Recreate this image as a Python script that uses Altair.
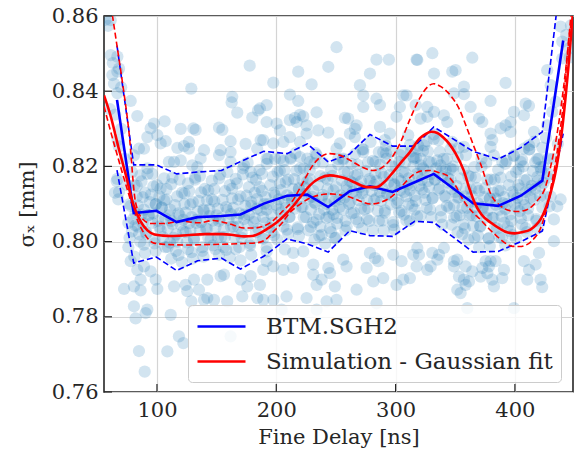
import altair as alt
import pandas as pd

# ---------------- data ----------------
# measured beam size, individual shots: dense core, first pass (~10 ns columns)
core_x = [
    79, 81, 83, 78, 82, 80, 84, 77, 76, 81,
    92, 87, 90, 94, 89, 93, 88, 91, 86, 90,
    96, 100, 102, 99, 104, 97, 101, 103, 98, 99,
    113, 108, 106, 111, 110, 112, 109, 114, 107, 112,
    119, 121, 123, 118, 122, 120, 124, 117, 116, 121,
    132, 127, 130, 134, 129, 133, 128, 131, 126, 130,
    136, 140, 142, 139, 144, 137, 141, 143, 138, 139,
    153, 148, 146, 151, 150, 152, 149, 154, 147, 152,
    159, 161, 163, 158, 162, 160, 164, 157, 156, 161,
    172, 167, 170, 174, 169, 173, 168, 171, 166, 170,
    176, 180, 182, 179, 184, 177, 181, 183, 178, 179,
    193, 188, 186, 191, 190, 192, 189, 194, 187, 192,
    199, 201, 203, 198, 202, 200, 204, 197, 196, 201,
    212, 207, 210, 214, 209, 213, 208, 211, 206, 210,
    216, 220, 222, 219, 224, 217, 221, 223, 218, 219,
    233, 228, 226, 231, 230, 232, 229, 234, 227, 232,
    239, 241, 243, 238, 242, 240, 244, 237, 236, 241,
    252, 247, 250, 254, 249, 253, 248, 251, 246, 250,
    256, 260, 262, 259, 264, 257, 261, 263, 258, 259,
    273, 268, 266, 271, 270, 272, 269, 274, 267, 272,
    279, 281, 283, 278, 282, 280, 284, 277, 276, 281,
    292, 287, 290, 294, 289, 293, 288, 291, 286, 290,
    296, 300, 302, 299, 304, 297, 301, 303, 298, 299,
    313, 308, 306, 311, 310, 312, 309, 314, 307, 312,
    319, 321, 323, 318, 322, 320, 324, 317, 316, 321,
    332, 327, 330, 334, 329, 333, 328, 331, 326, 330,
    336, 340, 342, 339, 344, 337, 341, 343, 338, 339,
    353, 348, 346, 351, 350, 352, 349, 354, 347, 352,
    359, 361, 363, 358, 362, 360, 364, 357, 356, 361,
    372, 367, 370, 374, 369, 373, 368, 371, 366, 370,
    376, 380, 382, 379, 384, 377, 381, 383, 378, 379,
    393, 388, 386, 391, 390, 392, 389, 394, 387, 392,
    399, 401, 403, 398, 402, 400, 404, 397, 396, 401,
    412, 407, 410, 414, 409, 413, 408, 411, 406, 410,
    416, 420, 422, 419, 424, 417, 421, 423, 418, 419,
]
core_y = [
    .8185, .8150, .8120, .8095, .8075, .8060, .8040, .8010, .7985, .7960,
    .8195, .8160, .8130, .8105, .8085, .8070, .8050, .8025, .8000, .7970,
    .8180, .8150, .8120, .8100, .8090, .8075, .8055, .8030, .8005, .7975,
    .8170, .8140, .8110, .8085, .8070, .8055, .8035, .8010, .7985, .7955,
    .8165, .8130, .8100, .8075, .8058, .8045, .8025, .8000, .7975, .7945,
    .8170, .8135, .8105, .8080, .8065, .8050, .8030, .8005, .7980, .7955,
    .8175, .8140, .8110, .8085, .8068, .8052, .8035, .8010, .7985, .7960,
    .8178, .8140, .8112, .8088, .8070, .8055, .8038, .8012, .7990, .7965,
    .8185, .8150, .8115, .8092, .8073, .8058, .8040, .8012, .7985, .7958,
    .8195, .8155, .8120, .8095, .8075, .8060, .8040, .8010, .7980, .7950,
    .8210, .8170, .8130, .8105, .8088, .8072, .8052, .8025, .7995, .7965,
    .8220, .8180, .8145, .8118, .8100, .8085, .8065, .8038, .8010, .7985,
    .8220, .8185, .8155, .8130, .8112, .8098, .8078, .8050, .8025, .8005,
    .8220, .8190, .8165, .8140, .8123, .8108, .8090, .8065, .8040, .8020,
    .8235, .8195, .8165, .8142, .8126, .8110, .8092, .8065, .8038, .8015,
    .8235, .8190, .8160, .8135, .8119, .8104, .8085, .8058, .8030, .8005,
    .8210, .8170, .8140, .8117, .8100, .8085, .8066, .8040, .8015, .7995,
    .8205, .8175, .8145, .8123, .8107, .8092, .8073, .8048, .8025, .8010,
    .8218, .8185, .8160, .8148, .8132, .8117, .8100, .8075, .8055, .8040,
    .8245, .8205, .8175, .8160, .8144, .8129, .8110, .8085, .8060, .8035,
    .8265, .8215, .8180, .8166, .8150, .8135, .8115, .8090, .8060, .8030,
    .8255, .8205, .8172, .8158, .8142, .8127, .8108, .8083, .8055, .8030,
    .8240, .8200, .8168, .8153, .8137, .8122, .8103, .8078, .8052, .8032,
    .8240, .8210, .8185, .8168, .8152, .8137, .8120, .8095, .8072, .8055,
    .8255, .8220, .8195, .8180, .8164, .8149, .8130, .8108, .8085, .8068,
    .8285, .8240, .8210, .8195, .8179, .8164, .8145, .8115, .8090, .8065,
    .8270, .8220, .8190, .8173, .8157, .8142, .8122, .8095, .8065, .8045,
    .8250, .8200, .8165, .8148, .8132, .8117, .8097, .8070, .8045, .8025,
    .8230, .8175, .8140, .8120, .8105, .8090, .8070, .8045, .8020, .8005,
    .8220, .8170, .8135, .8118, .8102, .8087, .8067, .8040, .8010, .7985,
    .8210, .8165, .8130, .8114, .8098, .8083, .8063, .8036, .8008, .7988,
    .8215, .8170, .8135, .8118, .8102, .8087, .8067, .8040, .8012, .7990,
    .8228, .8185, .8150, .8132, .8116, .8101, .8081, .8055, .8028, .8008,
    .8245, .8200, .8165, .8148, .8132, .8117, .8097, .8070, .8045, .8025,
    .8265, .8220, .8190, .8172, .8156, .8141, .8120, .8090, .8060, .8035,
]

# dense core, second pass (between the first-pass columns)
core2_x = [
    86, 83, 88, 84, 87, 82, 85, 89,
    92, 97, 95, 99, 93, 96, 91, 98,
    106, 103, 108, 104, 107, 102, 105, 109,
    112, 117, 115, 119, 113, 116, 111, 118,
    126, 123, 128, 124, 127, 122, 125, 129,
    132, 137, 135, 139, 133, 136, 131, 138,
    146, 143, 148, 144, 147, 142, 145, 149,
    152, 157, 155, 159, 153, 156, 151, 158,
    166, 163, 168, 164, 167, 162, 165, 169,
    172, 177, 175, 179, 173, 176, 171, 178,
    186, 183, 188, 184, 187, 182, 185, 189,
    192, 197, 195, 199, 193, 196, 191, 198,
    206, 203, 208, 204, 207, 202, 205, 209,
    212, 217, 215, 219, 213, 216, 211, 218,
    226, 223, 228, 224, 227, 222, 225, 229,
    232, 237, 235, 239, 233, 236, 231, 238,
    246, 243, 248, 244, 247, 242, 245, 249,
    252, 257, 255, 259, 253, 256, 251, 258,
    266, 263, 268, 264, 267, 262, 265, 269,
    272, 277, 275, 279, 273, 276, 271, 278,
    286, 283, 288, 284, 287, 282, 285, 289,
    292, 297, 295, 299, 293, 296, 291, 298,
    306, 303, 308, 304, 307, 302, 305, 309,
    312, 317, 315, 319, 313, 316, 311, 318,
    326, 323, 328, 324, 327, 322, 325, 329,
    332, 337, 335, 339, 333, 336, 331, 338,
    346, 343, 348, 344, 347, 342, 345, 349,
    352, 357, 355, 359, 353, 356, 351, 358,
    366, 363, 368, 364, 367, 362, 365, 369,
    372, 377, 375, 379, 373, 376, 371, 378,
    386, 383, 388, 384, 387, 382, 385, 389,
    392, 397, 395, 399, 393, 396, 391, 398,
    406, 403, 408, 404, 407, 402, 405, 409,
    412, 417, 415, 419, 413, 416, 411, 418,
    426, 423, 428, 424, 427, 422, 425, 429,
]
core2_y = [
    .8176, .8148, .8118, .8096, .8072, .8043, .8020, .7992,
    .8180, .8147, .8125, .8099, .8071, .8050, .8021, .7995,
    .8168, .8141, .8112, .8091, .8062, .8040, .8012, .7986,
    .8153, .8120, .8097, .8070, .8047, .8019, .7997, .7964,
    .8155, .8128, .8099, .8077, .8049, .8027, .7998, .7972,
    .8165, .8131, .8108, .8081, .8058, .8030, .8008, .7975,
    .8162, .8136, .8107, .8085, .8056, .8034, .8006, .7980,
    .8168, .8134, .8111, .8084, .8061, .8033, .8011, .7978,
    .8167, .8141, .8112, .8090, .8062, .8040, .8012, .7985,
    .8179, .8145, .8122, .8095, .8072, .8044, .8022, .7989,
    .8190, .8164, .8135, .8113, .8084, .8062, .8034, .8008,
    .8207, .8173, .8150, .8123, .8100, .8072, .8050, .8017,
    .8214, .8188, .8159, .8137, .8108, .8086, .8058, .8032,
    .8223, .8189, .8166, .8139, .8116, .8088, .8066, .8033,
    .8221, .8195, .8166, .8144, .8115, .8093, .8065, .8039,
    .8208, .8174, .8151, .8124, .8101, .8073, .8051, .8018,
    .8191, .8165, .8136, .8114, .8085, .8063, .8035, .8009,
    .8220, .8186, .8163, .8136, .8113, .8085, .8063, .8030,
    .8233, .8207, .8178, .8156, .8127, .8105, .8077, .8051,
    .8245, .8211, .8188, .8161, .8138, .8110, .8088, .8055,
    .8238, .8212, .8183, .8161, .8132, .8110, .8082, .8056,
    .8234, .8200, .8177, .8150, .8127, .8099, .8077, .8044,
    .8238, .8212, .8183, .8161, .8132, .8110, .8082, .8056,
    .8257, .8223, .8200, .8173, .8150, .8122, .8100, .8067,
    .8267, .8241, .8212, .8190, .8161, .8139, .8111, .8085,
    .8273, .8239, .8216, .8189, .8166, .8138, .8116, .8083,
    .8246, .8220, .8191, .8169, .8140, .8118, .8090, .8064,
    .8225, .8191, .8168, .8141, .8118, .8090, .8068, .8035,
    .8198, .8172, .8143, .8121, .8092, .8070, .8042, .8016,
    .8199, .8165, .8142, .8115, .8092, .8064, .8042, .8009,
    .8191, .8165, .8136, .8114, .8085, .8063, .8035, .8009,
    .8207, .8173, .8150, .8123, .8100, .8072, .8050, .8017,
    .8218, .8192, .8163, .8141, .8112, .8090, .8062, .8036,
    .8245, .8211, .8188, .8161, .8138, .8110, .8088, .8055,
    .8276, .8250, .8221, .8199, .8170, .8148, .8120, .8094,
]

# shots lying above the band
high_x = [
    177.7, 128.8, 163.1, 162.6, 167.3, 179.9, 184.7, 97.5, 94.7, 106.4, 91.9, 100.3, 107.3, 103.1,
    119.9, 132.4, 130.5, 152, 154.8, 117.1, 126.8, 122.6, 126.8, 161.7, 174.3, 153.4, 152, 186.9,
    89.1, 110, 114.3, 119.9, 136.6, 133.8, 129.6, 139.4, 161.7, 161.7, 173, 178.5, 184,
    250.5, 243.6, 218.4, 197.5, 229.6, 284, 294.4, 317.6, 278.5, 270.1, 211.4, 218.4, 191.9, 186.3,
    272.9, 272.9, 284, 286.9, 219.8, 222.6, 215.6, 233.8, 257.5, 260.3, 191.9, 200.3, 211.4, 217,
    225.4, 267.3, 265.9, 286.9, 300.8, 306.4, 309.2, 303.6, 203.1, 211.4, 225.4, 235.2, 243.6,
    189.1, 197.5, 205.9, 219.8, 253.3, 250.5, 261.7, 265.9, 295.2, 291, 310.6, 272.9, 191.9, 203.1,
    219.8, 228.2, 233.8, 256.1, 289.6, 292.4, 303.6, 314.8,
    318.2, 330.8, 364.3, 332.2, 347.5, 350.3, 392.2, 357.3, 348.9, 357.3, 316.8, 326.6, 332.2, 321,
    326.6, 340.5, 343.3, 362.9, 379.6, 369.9, 372.7, 399.2, 409, 411.8, 407.6, 388, 392.2, 396.4,
    396.4, 379.6, 381, 379.6, 411.8, 407.6, 318.2, 323.8, 347.5, 357.3, 382.4, 389.4, 399.2, 404.8,
    418.8, 421.5, 337.7, 346.1, 315.4, 321,
]
high_y = [
    .8468, .8407, .8385, .8370, .8343, .8330, .8349, .8314, .8301, .8320, .8278, .8283, .8267, .8261,
    .8300, .8297, .8301, .8303, .8297, .8249, .8265, .8254, .8247, .8267, .8260, .8243, .8230, .8270,
    .8247, .8212, .8212, .8216, .8221, .8198, .8203, .8243, .8212, .8238, .8203, .8185, .8247,
    .8517, .8465, .8452, .8423, .8418, .8484, .8484, .8484, .8447, .8416, .8391, .8374, .8363, .8354,
    .8389, .8358, .8380, .8363, .8337, .8333, .8329, .8344, .8329, .8327, .8318, .8314, .8323, .8318,
    .8309, .8309, .8300, .8305, .8332, .8389, .8389, .8358, .8296, .8278, .8287, .8296, .8290,
    .8270, .8261, .8265, .8265, .8261, .8247, .8287, .8278, .8287, .8270, .8283, .8238, .8221, .8221,
    .8225, .8212, .8230, .8221, .8238, .8221, .8230, .8225,
    .8483, .8501, .8489, .8447, .8452, .8456, .8422, .8412, .8394, .8392, .8363, .8358, .8345, .8327,
    .8332, .8336, .8318, .8358, .8374, .8327, .8318, .8345, .8367, .8361, .8336, .8301, .8309, .8318,
    .8292, .8287, .8270, .8252, .8256, .8247, .8247, .8256, .8265, .8252, .8229, .8212, .8229, .8212,
    .8220, .8198, .8203, .8194, .8221, .8203,
]

# shots lying below the band
low_x = [
    78, 83.5, 89.1, 94.7, 86.3, 72.4, 80.7, 86.3, 98.9, 100.3, 114.3, 124, 125.4, 131, 135.2, 142.2,
    142.2, 153.4, 156.2, 158.9, 147.8, 170.1, 178.5, 171.5, 175.7, 184.1, 80.7, 91.9, 90.5, 82.1,
    111.5, 118.4, 122.1, 84.9, 108.7, 89.7, 128.8, 139.4, 161.7,
    222.6, 214.2, 207.2, 191.9, 191.9, 197.5, 189.1, 205.9, 214.2, 231, 231, 243.6, 245, 238, 233.8,
    249.1, 258.9, 256.1, 267.3, 250.5, 225.4, 208.6, 197.5, 189.1, 186.3, 275.7, 282.7, 281.3, 289.6,
    278.5, 285.5, 298, 305, 300.8, 306.4, 284, 242.2, 233.8, 204.5, 314.8, 317.6, 312,
    319.6, 326.6, 329.4, 330.8, 336.4, 335, 340.5, 348.9, 351.7, 348.9, 358.7, 364.3, 353.1, 357.3,
    361.5, 351.7, 354.5, 358.7, 371.3, 372.7, 375.5, 379.6, 383.8, 378.2, 376.9, 381, 382.4, 389.4,
    390.8, 407.6, 411.8, 410.4, 421.5, 422.9, 417.4, 420.2, 360.1, 399.2, 318.2,
]
low_y = [
    .7948, .7925, .7934, .7921, .7899, .7874, .7881, .7870, .7899, .7874, .7881, .7885, .7868, .7899,
    .7872, .7899, .7850, .7908, .7912, .7841, .7845, .7899, .7908, .7854, .7881, .7850, .7828, .7819,
    .7810, .7796, .7805, .7748, .7730, .7709, .7708, .7654, .7841, .7845, .7748,
    .7974, .7970, .7979, .7974, .7948, .7934, .7925, .7925, .7930, .7939, .7912, .7930, .7916, .7899,
    .7885, .7881, .7934, .7952, .7872, .7845, .7850, .7854, .7845, .7845, .7885, .7930, .7956, .7894,
    .7903, .7970, .7948, .7965, .7948, .7885, .7899, .7836, .7841, .7819, .7819, .7965, .7934, .7903,
    .7965, .7925, .7934, .7970, .7965, .7952, .7983, .7948, .7952, .7934, .7934, .7921, .7907, .7899,
    .7894, .7872, .7863, .7885, .7907, .7930, .7948, .7948, .7948, .7934, .7916, .7899, .7881, .7903,
    .7925, .7948, .7925, .7899, .7899, .7879, .7939, .7970, .7823, .7823, .7983,
]

# shots at the two steep edges of the scan
edge_x = [
    59.2, 61.2, 61.2, 66.8, 62.6, 66.8, 64, 68.2, 66.8, 70, 78, 83.5, 84.9, 80.7, 66.8, 68.2,
    60.6, 65, 67, 68, 66.2, 64.8, 67.6, 76, 79, 57, 63, 70, 73, 75, 77,
    427.1, 430, 438.3, 439.7, 445.3, 439.7, 434.1, 431.3, 427.1, 416, 443, 446, 447, 428, 432, 436,
    430, 432.7, 435.5, 438.3, 432.7,
]
edge_y = [
    .8574, .8589, .8496, .8492, .8443, .8452, .8420, .8460, .8395, .8410, .8374, .8334, .8247, .8229,
    .8167, .8132, .8352, .8338, .8270, .8253, .8161, .8130, .8112, .8050, .8027, .8590, .8475, .8300,
    .8220, .8150, .8100,
    .8456, .8416, .8572, .8532, .8514, .8487, .8372, .8345, .8309, .8292, .8550, .8490, .8575, .8180,
    .8220, .8260, .8120, .8059, .8094, .8112, .8001,
]

# BTM.SGH2 binned mean and mean +/- std
btm_x = [66.5, 80.5, 99.5, 116.5, 134, 154, 170, 189.5, 209, 226, 243.5, 261.5, 278.5, 297.5,
         316, 332, 365, 386, 405, 423, 440.5]
btm_mean = [.8377, .8076, .8082, .8052, .8065, .8068, .8072, .8101, .8122, .8125, .8092, .8134,
            .8147, .8132, .8158, .8180, .8102, .8095, .8122, .8162, .8535]
btm_upper = [.8521, .8204, .8204, .8180, .8185, .8189, .8213, .8240, .8234, .8260, .8212, .8233,
             .8285, .8254, .8254, .8305, .8240, .8219, .8250, .8292, .8760]
btm_lower = [.8190, .7943, .7959, .7923, .7949, .7956, .7927, .7961, .8007, .7994, .7972, .8029,
             .8016, .8014, .8054, .8051, .7972, .7974, .8000, .8028, .8287]

# Simulation - Gaussian fit (central curve)
sim_x = [55.6, 61, 68, 74, 80, 86, 92, 98, 105, 112, 125, 140, 155, 165, 173, 180, 186, 193, 200,
         207, 214, 221, 228, 236, 245, 252, 259, 266, 276, 284, 291, 298, 305, 312, 320, 325, 330,
         335, 340, 345, 350, 357, 362, 366, 372, 380, 387, 394, 400, 406, 413, 418, 422, 426, 430,
         435, 440, 445, 450]
sim_y = [.8389, .8336, .8247, .8176, .8100, .8055, .8030, .8019, .8016, .8015, .8017, .8020, .8020,
         .8017, .8014, .8015, .8022, .8035, .8050, .8070, .8094, .8122, .8149, .8168, .8176, .8173,
         .8167, .8157, .8145, .8145, .8160, .8185, .8212, .8238, .8274, .8286, .8292, .8289, .8277,
         .8260, .8236, .8190, .8140, .8105, .8072, .8050, .8035, .8024, .8022, .8025, .8032, .8045,
         .8062, .8090, .8130, .8200, .8310, .8470, .8660]

# Simulation upper / lower envelope
simu_x = [62.6, 67, 71, 76.5, 82, 88, 95, 105, 120, 135, 147, 160, 173, 181, 190, 197, 205, 214,
          222, 230, 237, 245, 253, 262, 272, 281, 290, 298, 305, 312, 320, 327, 332, 338, 346, 353,
          360, 366, 372, 380, 388, 396, 402, 410, 419, 425, 430, 435, 440, 444, 447]
simu_y = [.8603, .8510, .8425, .8292, .8105, .8060, .8048, .8048, .8054, .8050, .8056, .8048, .8036,
          .8036, .8042, .8055, .8080, .8110, .8155, .8200, .8225, .8234, .8230, .8216, .8198, .8189,
          .8200, .8229, .8270, .8325, .8380, .8412, .8420, .8412, .8389, .8355, .8300, .8250, .8200,
          .8125, .8095, .8082, .8080, .8085, .8110, .8140, .8200, .8280, .8390, .8500, .8603]
siml_x = [55.6, 59.8, 66.8, 75, 82, 89, 97.5, 111, 125, 140, 155, 173, 184, 191, 198, 205, 211,
          218, 226, 235, 245, 254, 262, 270, 279, 288, 298, 306, 315, 322, 329, 336, 343, 350, 357,
          364, 371, 378, 385, 391, 397, 404, 410, 416, 421, 425, 430, 435, 440, 446, 449.5]
siml_y = [.8360, .8309, .8229, .8140, .8070, .8023, .7996, .7992, .7991, .7992, .7993, .7995, .7997,
          .8005, .8028, .8050, .8076, .8095, .8112, .8123, .8127, .8124, .8118, .8108, .8100, .8105,
          .8123, .8150, .8178, .8188, .8189, .8184, .8176, .8150, .8109, .8080, .8059, .8035, .8014,
          .7998, .7988, .7987, .7992, .8008, .8032, .8070, .8141, .8230, .8350, .8558, .8603]

series_names = ["BTM.SGH2", "Simulation - Gaussian fit"]
series_colors = ["#0000ff", "#ff0000"]
x_ticks = [100, 200, 300, 400]
y_ticks = [0.76, 0.78, 0.80, 0.82, 0.84, 0.86]

# ---------------- tables ----------------
scatter_df = pd.DataFrame({
    "x": core_x + core2_x + high_x + low_x + edge_x,
    "y": core_y + core2_y + high_y + low_y + edge_y,
})
mean_df = pd.DataFrame({"x": btm_x, "y": btm_mean, "series": series_names[0]})
sim_df = pd.DataFrame({"x": sim_x, "y": sim_y, "series": series_names[1]})
btm_band_df = pd.concat([
    pd.DataFrame({"x": btm_x, "y": btm_upper, "band": "upper"}),
    pd.DataFrame({"x": btm_x, "y": btm_lower, "band": "lower"}),
])
sim_band_df = pd.concat([
    pd.DataFrame({"x": simu_x, "y": simu_y, "band": "upper"}),
    pd.DataFrame({"x": siml_x, "y": siml_y, "band": "lower"}),
])
xt_df = pd.DataFrame({"x": x_ticks})
yt_df = pd.DataFrame({"y": y_ticks})

FONT = "DejaVu Serif"
TXT = "#262626"

xscale = alt.Scale(domain=[55.6, 448.7], nice=False, zero=False)
yscale = alt.Scale(domain=[0.76, 0.86], nice=False, zero=False)
xaxis = alt.Axis(values=x_ticks, title="Fine Delay [ns]", grid=True, tickSize=0, domain=False,
                 labelFlush=False, labelOverlap=False, labelPadding=7, titlePadding=6,
                 labelFont=FONT, labelFontSize=21, labelColor=TXT,
                 titleFont=FONT, titleFontSize=21, titleColor=TXT, titleFontWeight="normal",
                 gridColor="#d4d4d4", gridWidth=1.2)
yaxis = alt.Axis(values=y_ticks, title="σₓ [mm]", format=".2f", grid=True, tickSize=0,
                 domain=False, labelFlush=False, labelOverlap=False, labelPadding=6, titlePadding=14,
                 labelFont=FONT, labelFontSize=21, labelColor=TXT,
                 titleFont=FONT, titleFontSize=21, titleColor=TXT, titleFontWeight="normal",
                 gridColor="#d4d4d4", gridWidth=1.2)


def X(f):
    return alt.X(f"{f}:Q", scale=xscale, axis=xaxis)


def Y(f):
    return alt.Y(f"{f}:Q", scale=yscale, axis=yaxis)


color_enc = alt.Color(
    "series:N",
    scale=alt.Scale(domain=series_names, range=series_colors),
    legend=alt.Legend(
        title=None, orient="none", legendX=84, legendY=289,
        symbolType="M-1,0H3", symbolSize=576, symbolStrokeWidth=2.5,
        labelFont=FONT, labelFontSize=23, labelColor=TXT, labelOffset=43, labelLimit=500,
        rowPadding=9, padding=8,
        fillColor="rgba(255,255,255,0.8)", strokeColor="#cccccc", cornerRadius=4,
    ),
)

scatter = alt.Chart(scatter_df).mark_circle(
    size=150, color="#1f77b4", opacity=0.2, clip=True
).encode(x=X("x"), y=Y("y"))

btm_band = alt.Chart(btm_band_df).mark_line(
    color="#0000ff", strokeWidth=1.6, strokeDash=[6, 3], clip=True
).encode(x=X("x"), y=Y("y"), detail="band:N")

sim_band = alt.Chart(sim_band_df).mark_line(
    color="#ff0000", strokeWidth=1.6, strokeDash=[6, 3], interpolate="monotone", clip=True
).encode(x=X("x"), y=Y("y"), detail="band:N")

mean_line = alt.Chart(mean_df).mark_line(strokeWidth=2.6, clip=True).encode(
    x=X("x"), y=Y("y"), color=color_enc)

sim_line = alt.Chart(sim_df).mark_line(strokeWidth=2.6, interpolate="monotone", clip=True).encode(
    x=X("x"), y=Y("y"), color=color_enc)

xticks = alt.Chart(xt_df).mark_rule(color=TXT, strokeWidth=1.2).encode(
    x=X("x"), y=alt.value(376), y2=alt.value(368))
yticks = alt.Chart(yt_df).mark_rule(color=TXT, strokeWidth=1.2).encode(
    y=Y("y"), x=alt.value(0), x2=alt.value(8))

chart = alt.layer(
    scatter, btm_band, sim_band, mean_line, sim_line, xticks, yticks
).properties(
    width=469, height=376,
    autosize=alt.AutoSizeParams(type="none"),
    padding={"left": 104, "top": 16, "right": 2, "bottom": 59},
    background="white",
).configure_view(
    stroke="#262626", strokeWidth=1.6
)

chart.save("out.html", embed_options={"renderer": "svg", "actions": False})
